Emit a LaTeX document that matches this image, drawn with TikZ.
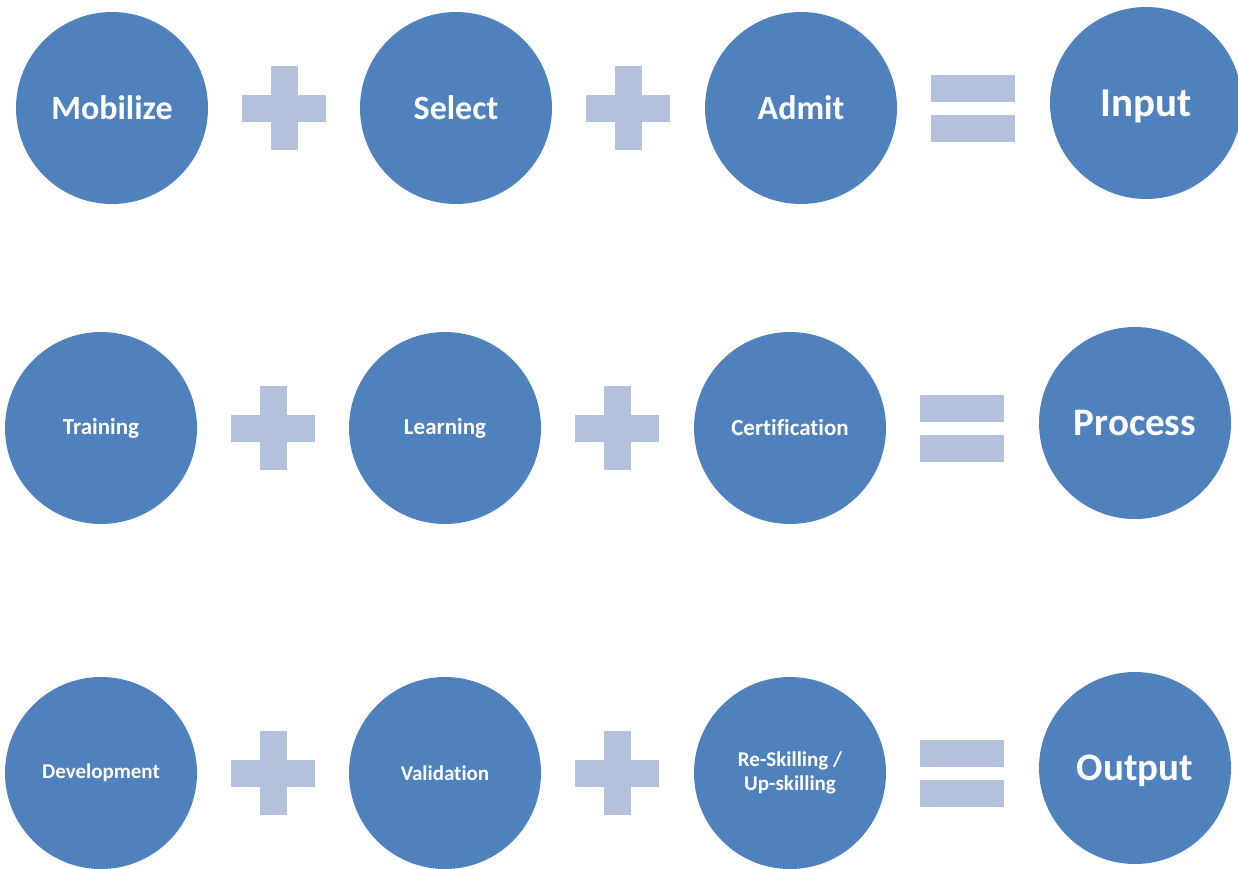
\documentclass[tikz,border=0pt]{standalone}
\usepackage{fontspec}
\setmainfont{Carlito}[Ligatures=NoCommon]
\definecolor{ballblue}{HTML}{4F81BD}
\definecolor{signblue}{HTML}{B3C1DC}
\tikzset{
  ball/.style={circle,fill=ballblue,minimum size=192pt,inner sep=0pt,
    text=white,font=\bfseries,align=center},
  plussign/.pic={
    \fill[signblue] (-42,-13.5) rectangle (42,13.5);
    \fill[signblue] (-13.5,-42) rectangle (13.5,42);},
  eqsign/.pic={
    \fill[signblue] (-42,-33.5) rectangle (42,-6.5);
    \fill[signblue] (-42,6.5) rectangle (42,33.5);}
}
\begin{document}
\begin{tikzpicture}[x=1pt,y=-1pt]
	\useasboundingbox (0,0) rectangle (1238,868);
	% input row
	\node[ball,font=\bfseries\fontsize{34}{40}\selectfont] (mobilize) at (112,108){Mobilize};
	\pic at (284,108){plussign};
	\node[ball,font=\bfseries\fontsize{34}{40}\selectfont] (select) at (456,108){Select};
	\pic at (628,108){plussign};
	\node[ball,font=\bfseries\fontsize{34}{40}\selectfont] (admit) at (801,108){Admit};
	\pic at (973,108){eqsign};
	\node[ball,font=\bfseries\fontsize{41}{48}\selectfont] (input) at (1146,103){\raisebox{-3pt}[\height][\depth]{Input}};
	% process row
	\node[ball,font=\bfseries\fontsize{23}{28}\selectfont] (training) at (101,428){Training};
	\pic at (273,428){plussign};
	\node[ball,font=\bfseries\fontsize{23}{28}\selectfont] (learning) at (445,428){Learning};
	\pic at (617,428){plussign};
	\node[ball,font=\bfseries\fontsize{23}{28}\selectfont] (certification) at (790,428){Certification};
	\pic at (962,428){eqsign};
	\node[ball,font=\bfseries\fontsize{39}{46}\selectfont] (process) at (1135,423){Process};
	% output row
	\node[ball,font=\bfseries\fontsize{21}{24}\selectfont] (development) at (101,773){Development};
	\pic at (273,773){plussign};
	\node[ball,font=\bfseries\fontsize{21}{24}\selectfont] (validation) at (445,773){Validation};
	\pic at (617,773){plussign};
	\node[ball,font=\bfseries\fontsize{21}{24}\selectfont] (reskilling) at (790,773){Re-Skilling /\\Up-skilling};
	\pic at (962,773){eqsign};
	\node[ball,font=\bfseries\fontsize{39}{46}\selectfont] (output) at (1135,768){\raisebox{-3pt}[\height][\depth]{Output}};
\end{tikzpicture}
\end{document}
